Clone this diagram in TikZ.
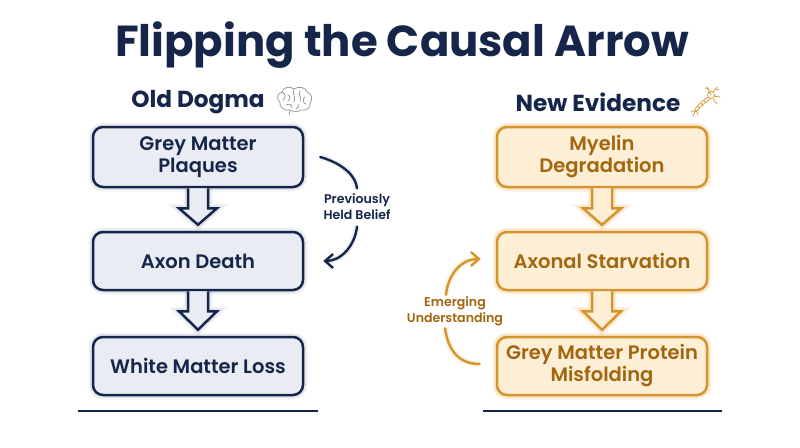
\documentclass[tikz,border=0pt]{standalone}
\usepackage{fontspec}
\setmainfont{Poppins}
\newfontfamily\popsemi{Poppins SemiBold}
\newfontfamily\popbold{Poppins Bold}
\usetikzlibrary{calc,arrows.meta}
\definecolor{navy}{HTML}{15264A}
\definecolor{lfill}{HTML}{E9ECF2}
\definecolor{lglow}{HTML}{8E9AB5}
\definecolor{rfill}{HTML}{FCEFD6}
\definecolor{rborder}{HTML}{D4952E}
\definecolor{rtext}{HTML}{A4650F}
\definecolor{rglow}{HTML}{F2B75A}
\definecolor{iconG}{HTML}{9A9A9A}
\tikzset{
  glowL/.style={preaction={draw=lglow,line width=9pt,opacity=0.10},
                preaction={draw=lglow,line width=6pt,opacity=0.15}},
  glowR/.style={preaction={draw=rglow,line width=9pt,opacity=0.15},
                preaction={draw=rglow,line width=6pt,opacity=0.22}},
  lbox/.style={glowL,draw=navy,fill=lfill,line width=2.5pt,rounded corners=10pt,
    minimum width=210pt,align=center,text=navy,font=\popsemi\fontsize{19.5}{22}\selectfont},
  rbox/.style={glowR,draw=rborder,fill=rfill,line width=2.5pt,rounded corners=10pt,
    minimum width=210pt,align=center,text=rtext,font=\popsemi\fontsize{19.5}{22}\selectfont},
  heading/.style={text=navy,font=\popbold\fontsize{23.2}{25}\selectfont},
  lbl/.style={align=center,font=\popsemi\fontsize{12.6}{16}\selectfont},
  curveL/.style={draw=navy,line width=2.4pt,line cap=round},
  curveR/.style={draw=rborder,line width=2.4pt,line cap=round},
  rule/.style={draw=navy,line width=2.8pt}
}
\begin{document}
\begin{tikzpicture}[x=1pt,y=-1pt]
\useasboundingbox (0,0) rectangle (800,447);
\fill[white] (0,0) rectangle (800,447);
% title
\node[text=navy,font=\popbold\fontsize{43.4}{46}\selectfont] (title) at (402,45) {Flipping the Causal Arrow};
% headings
\node[heading] (hl) at (198,102) {Old Dogma};
\node[heading] (hr) at (598,102) {New Evidence};
% left boxes
\node[lbox,minimum height=60pt] (l1) at (198,157) {Grey Matter\\Plaques};
\node[lbox,minimum height=58pt] (l2) at (198,261) {Axon Death};
\node[lbox,minimum height=58pt] (l3) at (198,366) {White Matter Loss};
% right boxes
\node[rbox,minimum height=60pt] (r1) at (602,157) {Myelin\\Degradation};
\node[rbox,minimum height=58pt] (r2) at (602,261) {Axonal Starvation};
\node[rbox,minimum height=58pt] (r3) at (602,366) {Grey Matter Protein\\Misfolding};
% block arrows
\foreach \a/\b in {l1/l2,l2/l3}{
  \draw[glowL,draw=navy,fill=lfill,line width=2.5pt,line join=miter]
    ($(\a.south)+(-10,0)$) -- ($(\a.south)+(-10,20)$) -- ($(\a.south)+(-19,20)$)
    -- ($(\b.north)+(0,-6)$) -- ($(\a.south)+(19,20)$) -- ($(\a.south)+(10,20)$)
    -- ($(\a.south)+(10,0)$);
}
\foreach \a/\b in {r1/r2,r2/r3}{
  \draw[glowR,draw=rborder,fill=rfill,line width=2.5pt,line join=miter]
    ($(\a.south)+(-10,0)$) -- ($(\a.south)+(-10,20)$) -- ($(\a.south)+(-19,20)$)
    -- ($(\b.north)+(0,-6)$) -- ($(\a.south)+(19,20)$) -- ($(\a.south)+(10,20)$)
    -- ($(\a.south)+(10,0)$);
}
% left curved arrow
\node[lbl,text=navy] (pl) at (357,207) {Previously\\Held Belief};
\coordinate (pa) at ($(l1.east)+(16,0)$);
\coordinate (pb) at ($(l2.east)+(19,0)$);
\draw[curveL,preaction={draw=lglow,line width=6pt,opacity=0.15}] (pa) .. controls ($(pa)+(24,7)$) and ($(pa)+(36,20)$) .. ($(pl.north)+(0,-2)$);
\draw[curveL,preaction={draw=lglow,line width=6pt,opacity=0.15},-{Straight Barb[length=8pt,width=14pt,line width=2.4pt]}] ($(pl.south)+(0,3)$) .. controls ($(pl.south)+(-2,22)$) and ($(pb)+(18,0)$) .. (pb);
% right curved arrow
\node[lbl,text=rtext] (el) at (455,311) {Emerging\\Understanding};
\coordinate (ea) at ($(r2.west)+(-15,-2)$);
\coordinate (eb) at ($(r3.west)+(-16,-2)$);
\draw[curveR,preaction={draw=rglow,line width=6pt,opacity=0.2},-{Straight Barb[length=8pt,width=14pt,line width=2.4pt]}] ($(el.north)+(-9,2)$) .. controls ($(el.north)+(-7,-18)$) and ($(ea)+(-20,0)$) .. (ea);
\draw[curveR,preaction={draw=rglow,line width=6pt,opacity=0.2}] ($(el.south)+(-10,-1)$) .. controls ($(el.south)+(-7,20)$) and ($(eb)+(-22,0)$) .. (eb);
% bottom rules
\coordinate (bl1) at (78,411); \coordinate (bl2) at (318,411);
\coordinate (br1) at (483,411); \coordinate (br2) at (722,411);
\draw[rule] (bl1) -- (bl2);
\draw[rule] (br1) -- (br2);
% brain icon
\begin{scope}[shift={(295,101)},draw=iconG,line width=0.8pt,line cap=round]
\draw (-6,14) -- (-5,9);
\draw (-5,9) .. controls (-12,10) and (-16,5) .. (-15,1)
  .. controls (-19,-1) and (-18,-8) .. (-13,-9)
  .. controls (-12,-14) and (-5,-15) .. (-1,-12)
  .. controls (3,-15) and (11,-14) .. (12,-9)
  .. controls (17,-8) and (18,-1) .. (15,2)
  .. controls (16,7) and (11,10) .. (6,9)
  .. controls (3,11) and (-1,11) .. (-5,9);
\draw (-1,-12) .. controls (-3,-7) and (1,-4) .. (-1,1);
\draw (-13,-9) .. controls (-9,-7) and (-9,-3) .. (-12,-1);
\draw (-9,4) .. controls (-6,2) and (-3,4) .. (-3,7);
\draw (5,-10) .. controls (3,-6) and (7,-4) .. (5,0);
\draw (10,-4) .. controls (7,-2) and (8,2) .. (11,3);
\draw (3,3) .. controls (5,5) and (3,7) .. (1,8);
\draw (-7,-6) .. controls (-4,-5) and (-5,-1) .. (-7,0);
\end{scope}
% neuron icon
\begin{scope}[shift={(705,101)},draw=rborder,line width=0.7pt,line cap=round]
\draw (6,-6) circle (3.5pt);
\draw (6,-6) -- (2,-14) (4,-12) -- (0,-13);
\draw (8,-9) -- (12,-14) (11,-12) -- (14,-11);
\draw (9,-5) -- (15,-4);
\draw (8,-2) -- (12,3);
\draw (3,-4) .. controls (-2,0) and (-6,2) .. (-10,8);
\draw (5,-2) .. controls (0,2) and (-4,4) .. (-8,10);
\draw (-4,2) -- (-2,5) (-7,5) -- (-5,8) (-1,0) -- (1,2);
\draw (-9,9) -- (-14,11) (-9,9) -- (-12,15) (-9,9) -- (-7,14);
\end{scope}
\end{tikzpicture}
\end{document}
